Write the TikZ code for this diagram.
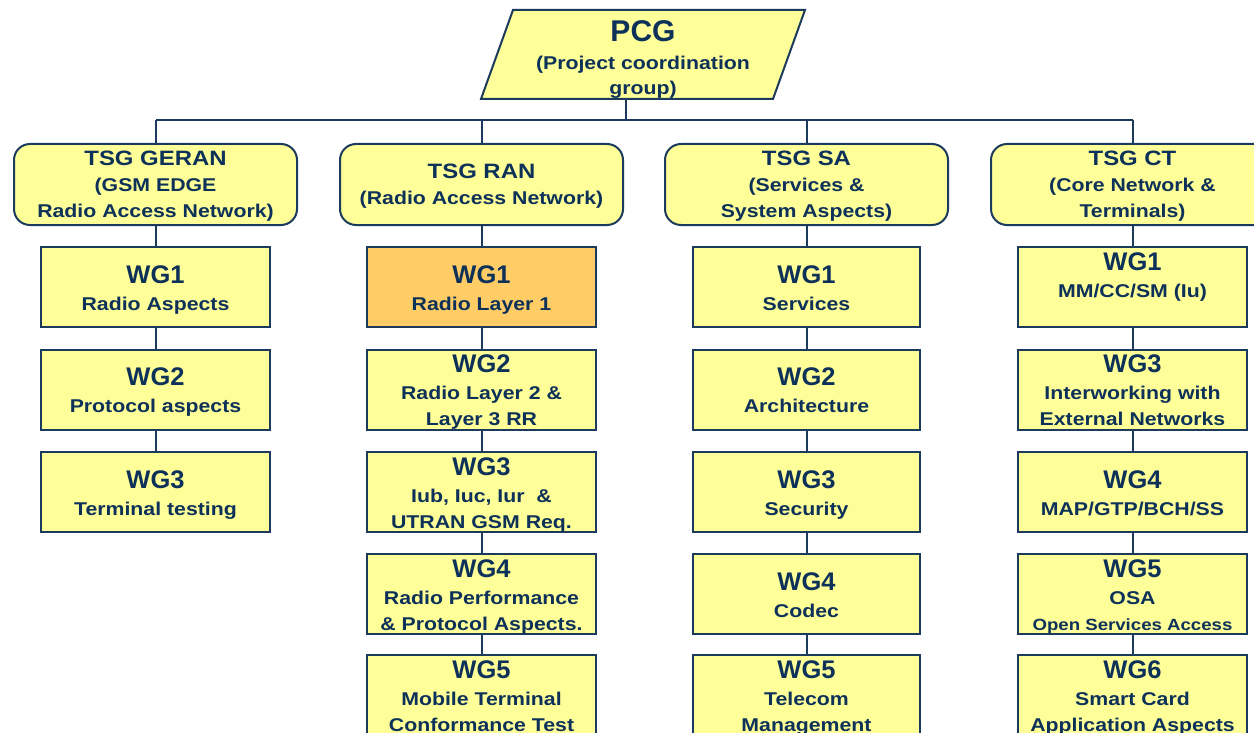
\documentclass[tikz,border=0pt]{standalone}
\usepackage{fontspec}
\setmainfont{Liberation Sans}
\newfontfamily\widef[FakeStretch=1.15]{Liberation Sans}
\definecolor{yel}{HTML}{FFFF99}
\definecolor{org}{HTML}{FFCC66}
\definecolor{strokec}{HTML}{1B3A5C}
\definecolor{txtc}{HTML}{0D3159}
\newcommand{\wgf}{\normalfont\bfseries\fontsize{25.5}{26}\selectfont}
\newcommand{\subf}{\widef\bfseries\fontsize{18.5}{26}\selectfont}
\newcommand{\tsgf}{\fontsize{20.8}{26}\selectfont}
\newcommand{\wgt}[1]{\rule{0pt}{23pt}{\wgf #1}}
\newcommand{\tst}[1]{\rule{0pt}{18.8pt}{\tsgf #1}}
\newcommand{\estrut}{\rule[-4pt]{0pt}{4pt}}
\tikzset{
  box/.style={draw=strokec, line width=2pt, fill=yel, minimum width=229pt, minimum height=80pt,
    inner sep=0pt, align=center, text=txtc, font=\subf},
  tsgbox/.style={box, rounded corners=16pt, minimum width=283pt, minimum height=81pt},
  link/.style={draw=strokec, line width=2pt}
}
\begin{document}
\begin{tikzpicture}[x=1pt,y=-1pt]
\useasboundingbox (0,0) rectangle (1254,733);
\clip (0,0) rectangle (1254,733);
% PCG
\draw[draw=strokec, line width=2pt, fill=yel] (513,10) -- (805,10) -- (773,99) -- (481,99) -- cycle;
\node[align=center, text=txtc, font=\widef\bfseries\fontsize{18.5}{25}\selectfont, inner sep=0pt] (pcg) at (643,56.6)
  {\rule{0pt}{27.2pt}{\normalfont\bfseries\fontsize{30}{28}\selectfont PCG}\\[3pt](Project coordination\\group)\estrut};
\coordinate (pcgb) at (626,99);
\coordinate (bus) at (626,120);
% TSG boxes
\node[tsgbox] (geran) at (155.5,184.5) {\tst{TSG GERAN}\\(GSM EDGE\\Radio Access Network)\estrut};
\node[tsgbox] (ran) at (481.5,184.5) {\tst{TSG RAN}\\(Radio Access Network)\estrut};
\node[tsgbox] (sa) at (806.5,184.5) {\tst{TSG SA}\\(Services \&\\System Aspects)\estrut};
\node[tsgbox] (ct) at (1132.5,184.5) {\tst{TSG CT}\\(Core Network \&\\Terminals)\estrut};
% GERAN WGs
\node[box] (g1) at (155.5,287) {\wgt{WG1}\\[1pt]Radio Aspects\estrut};
\node[box] (g2) at (155.5,389.5) {\wgt{WG2}\\[1pt]Protocol aspects\estrut};
\node[box] (g3) at (155.5,492) {\wgt{WG3}\\[1pt]Terminal testing\estrut};
% RAN WGs
\node[box, fill=org] (r1) at (481.5,287) {\wgt{WG1}\\[1pt]Radio Layer 1\estrut};
\node[box] (r2) at (481.5,389.5) {\wgt{WG2}\\[1pt]Radio Layer 2 \&\\Layer 3 RR\estrut};
\node[box] (r3) at (481.5,492) {\wgt{WG3}\\[1pt]Iub, Iuc, Iur\ \ \&\\UTRAN GSM Req.\estrut};
\node[box] (r4) at (481.5,594) {\wgt{WG4}\\[1pt]Radio Performance\\\& Protocol Aspects.\estrut};
\node[box] (r5) at (481.5,695) {\wgt{WG5}\\[1pt]Mobile Terminal\\Conformance Test\estrut};
% SA WGs
\node[box, minimum width=227pt] (s1) at (806.5,287) {\wgt{WG1}\\[1pt]Services\estrut};
\node[box, minimum width=227pt] (s2) at (806.5,389.5) {\wgt{WG2}\\[1pt]Architecture\estrut};
\node[box, minimum width=227pt] (s3) at (806.5,492) {\wgt{WG3}\\[1pt]Security\estrut};
\node[box, minimum width=227pt] (s4) at (806.5,594) {\wgt{WG4}\\[1pt]Codec\estrut};
\node[box, minimum width=227pt] (s5) at (806.5,695) {\wgt{WG5}\\[1pt]Telecom\\Management\estrut};
% CT WGs
\node[box] (c1) at (1132.5,287) {\wgt{WG1}\\[1pt]MM/CC/SM (Iu)\\\estrut};
\node[box] (c3) at (1132.5,389.5) {\wgt{WG3}\\[1pt]Interworking with\\External Networks\estrut};
\node[box] (c4) at (1132.5,492) {\wgt{WG4}\\[1pt]MAP/GTP/BCH/SS\estrut};
\node[box] (c5) at (1132.5,594) {\wgt{WG5}\\[1pt]OSA\\{\fontsize{16.2}{22}\selectfont Open Services Access}\estrut};
\node[box] (c6) at (1132.5,695) {\wgt{WG6}\\[1pt]Smart Card\\Application Aspects\estrut};
% connectors
\draw[link] (pcgb) -- (bus);
\draw[link] (geran.north |- bus) -- (ct.north |- bus);
\foreach \t in {geran,ran,sa,ct} { \draw[link] (\t.north |- bus) -- (\t.north); }
\draw[link] (geran) -- (g1); \draw[link] (g1) -- (g2); \draw[link] (g2) -- (g3);
\draw[link] (ran) -- (r1); \draw[link] (r1) -- (r2); \draw[link] (r2) -- (r3); \draw[link] (r3) -- (r4); \draw[link] (r4) -- (r5);
\draw[link] (sa) -- (s1); \draw[link] (s1) -- (s2); \draw[link] (s2) -- (s3); \draw[link] (s3) -- (s4); \draw[link] (s4) -- (s5);
\draw[link] (ct) -- (c1); \draw[link] (c1) -- (c3); \draw[link] (c3) -- (c4); \draw[link] (c4) -- (c5); \draw[link] (c5) -- (c6);
\end{tikzpicture}
\end{document}
